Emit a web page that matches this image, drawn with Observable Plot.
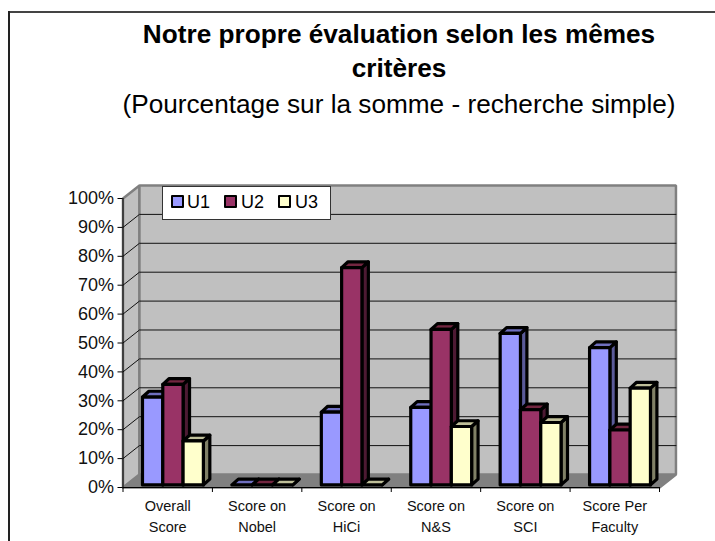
<!DOCTYPE html>
<html><head><meta charset="utf-8">
<script src="https://cdn.jsdelivr.net/npm/d3@7"></script>
<script src="https://cdn.jsdelivr.net/npm/@observablehq/plot@0.6"></script>
<style>
html,body{margin:0;padding:0;background:#fff;overflow:hidden}
#page{position:relative;width:715px;height:541px;font-family:"Liberation Sans",Arial,sans-serif;color:#000}
#frameTop{position:absolute;left:8px;right:0;top:11px;height:2px;background:#444}
#frameLeft{position:absolute;left:8px;top:11px;bottom:0;width:2px;background:#222}
#title{position:absolute;left:0;top:0;width:798px;text-align:center}
#title div{position:absolute;left:0;width:100%;white-space:nowrap}
#chart{position:absolute;left:0;top:150px}
#legend{position:absolute;left:162px;top:186px;width:167px;height:32px;background:#fff;border:1px solid #333}
.sw{position:absolute;top:8px;width:9px;height:9px;border:2.5px solid #000;border-radius:1px}
.lb{position:absolute;top:5px;font-size:18px;line-height:21px}
</style></head><body>
<div id="page">
<div id="frameTop"></div><div id="frameLeft"></div>
<div id="title">
<div style="top:17px;font:bold 26.2px/34px 'Liberation Sans',Arial,sans-serif">Notre propre évaluation selon les mêmes</div>
<div style="top:51px;font:bold 26.2px/34px 'Liberation Sans',Arial,sans-serif">critères</div>
<div style="top:87px;font:26.2px/34px 'Liberation Sans',Arial,sans-serif">(Pourcentage sur la somme - recherche simple)</div>
</div>
<div id="chart"></div>
<div id="legend"></div>
</div>
<script>
const categories = ["Overall\nScore","Score on\nNobel","Score on\nHiCi","Score on\nN&S","Score on\nSCI","Score Per\nFaculty"];
const seriesNames = ["U1","U2","U3"];
const u1 = [30.4,0,25.2,26.8,52.4,47.5];
const u2 = [34.8,0,75.2,53.8,26,19];
const u3 = [15.2,0,0,20.2,21.6,33.5];
const frontColors = ["#9999ff","#993366","#ffffcc"];
const sideColors = ["#5a5a99","#4d1a33","#808066"];
const topColors = ["#6f6fbf","#732640","#bfbf99"];
const yTicks = [0,10,20,30,40,50,60,70,80,90,100];

// 3-D depth, expressed in data units (categories / percent)
const wallDx = 0.184, wallDy = 4.5;
const barStart = 0.218, barWidth = 0.227, planeDy = 0.9;
const barDx = 0.072, barDy = 2.0;

const faces = [];
let fid = 0;
function face(points, fill, stroke, kind){
  const id = fid++;
  [...points, points[0]].forEach(([x,y]) => faces.push({id,x,y,fill,stroke,kind}));
}
const ncat = categories.length;
const wallGrey = "#c0c0c0", edgeGrey = "#808080";
face([[0,0],[wallDx,wallDy],[ncat+wallDx,wallDy],[ncat,0]], "#808080", "#808080", "wall");
face([[0,0],[wallDx,wallDy],[wallDx,100+wallDy],[0,100]], wallGrey, edgeGrey, "wall");
face([[wallDx,wallDy],[ncat+wallDx,wallDy],[ncat+wallDx,100+wallDy],[wallDx,100+wallDy]], wallGrey, edgeGrey, "wall");

categories.forEach((c,i) => {
  [u1,u2,u3].forEach((s,k) => {
    const x0 = i + barStart + k*barWidth, x1 = x0 + barWidth;
    const y0 = planeDy, y1 = planeDy + s[i];
    face([[x1,y0],[x1+barDx,y0+barDy],[x1+barDx,y1+barDy],[x1,y1]], sideColors[k], "#000", "bar");
    face([[x0,y1],[x1,y1],[x1+barDx,y1+barDy],[x0+barDx,y1+barDy]], topColors[k], "#000", "bar");
    if (s[i] > 0) face([[x0,y0],[x1,y0],[x1,y1],[x0,y1]], frontColors[k], "#000", "bar");
  });
});

const grid = [];
yTicks.filter(v => v > 0 && v < 100).forEach(v => {
  grid.push({v,x:0,y:v},{v,x:wallDx,y:v+wallDy},{v,x:ncat+wallDx,y:v+wallDy});
});
const labels = categories.map((t,i) => ({t,x:i+0.5}));
const xTicks = d3.range(ncat+1);

const plot = Plot.plot({
  width:715, height:391,
  marginLeft:122.5, marginRight:56, marginTop:48, marginBottom:54,
  x:{domain:[0,ncat]},
  y:{domain:[0,100]},
  color:{type:"identity"},
  style:{background:"transparent",fontFamily:"'Liberation Sans',Arial,sans-serif",overflow:"visible"},
  marks:[
    Plot.line(faces.filter(d=>d.kind==="wall"),{x:"x",y:"y",z:"id",fill:"fill",stroke:"stroke",strokeWidth:2.5,strokeLinejoin:"miter"}),
    Plot.line(grid,{x:"x",y:"y",z:"v",stroke:"#111",strokeWidth:1}),
    Plot.line(faces.filter(d=>d.kind==="bar"),{x:"x",y:"y",z:"id",fill:"fill",stroke:"stroke",strokeWidth:3.2,strokeLinejoin:"round"}),
    Plot.ruleX([0],{stroke:"#000",strokeWidth:1}),
    Plot.ruleY([0],{stroke:"#000",strokeWidth:1}),
    Plot.axisY({ticks:yTicks,tickFormat:d=>d+"%",tickSize:5,tickPadding:4,fontSize:18,label:null,stroke:"#000",fill:"#111"}),
    Plot.axisX({ticks:xTicks,tickFormat:()=>"",tickSize:5,label:null,stroke:"#000"}),
    Plot.text(labels,{x:"x",y:0,text:"t",dy:8.5,lineAnchor:"top",fontSize:14.5,lineHeight:1.45,fill:"#111"})
  ]
});
document.getElementById("chart").appendChild(plot);

const lg = document.getElementById("legend");
const pos = [[8,24],[61,78],[115,132]];
seriesNames.forEach((n,k)=>{
  const s=document.createElement("div");s.className="sw";s.style.left=pos[k][0]+"px";s.style.background=frontColors[k];lg.appendChild(s);
  const t=document.createElement("div");t.className="lb";t.style.left=pos[k][1]+"px";t.textContent=n;lg.appendChild(t);
});
</script>
</body></html>
